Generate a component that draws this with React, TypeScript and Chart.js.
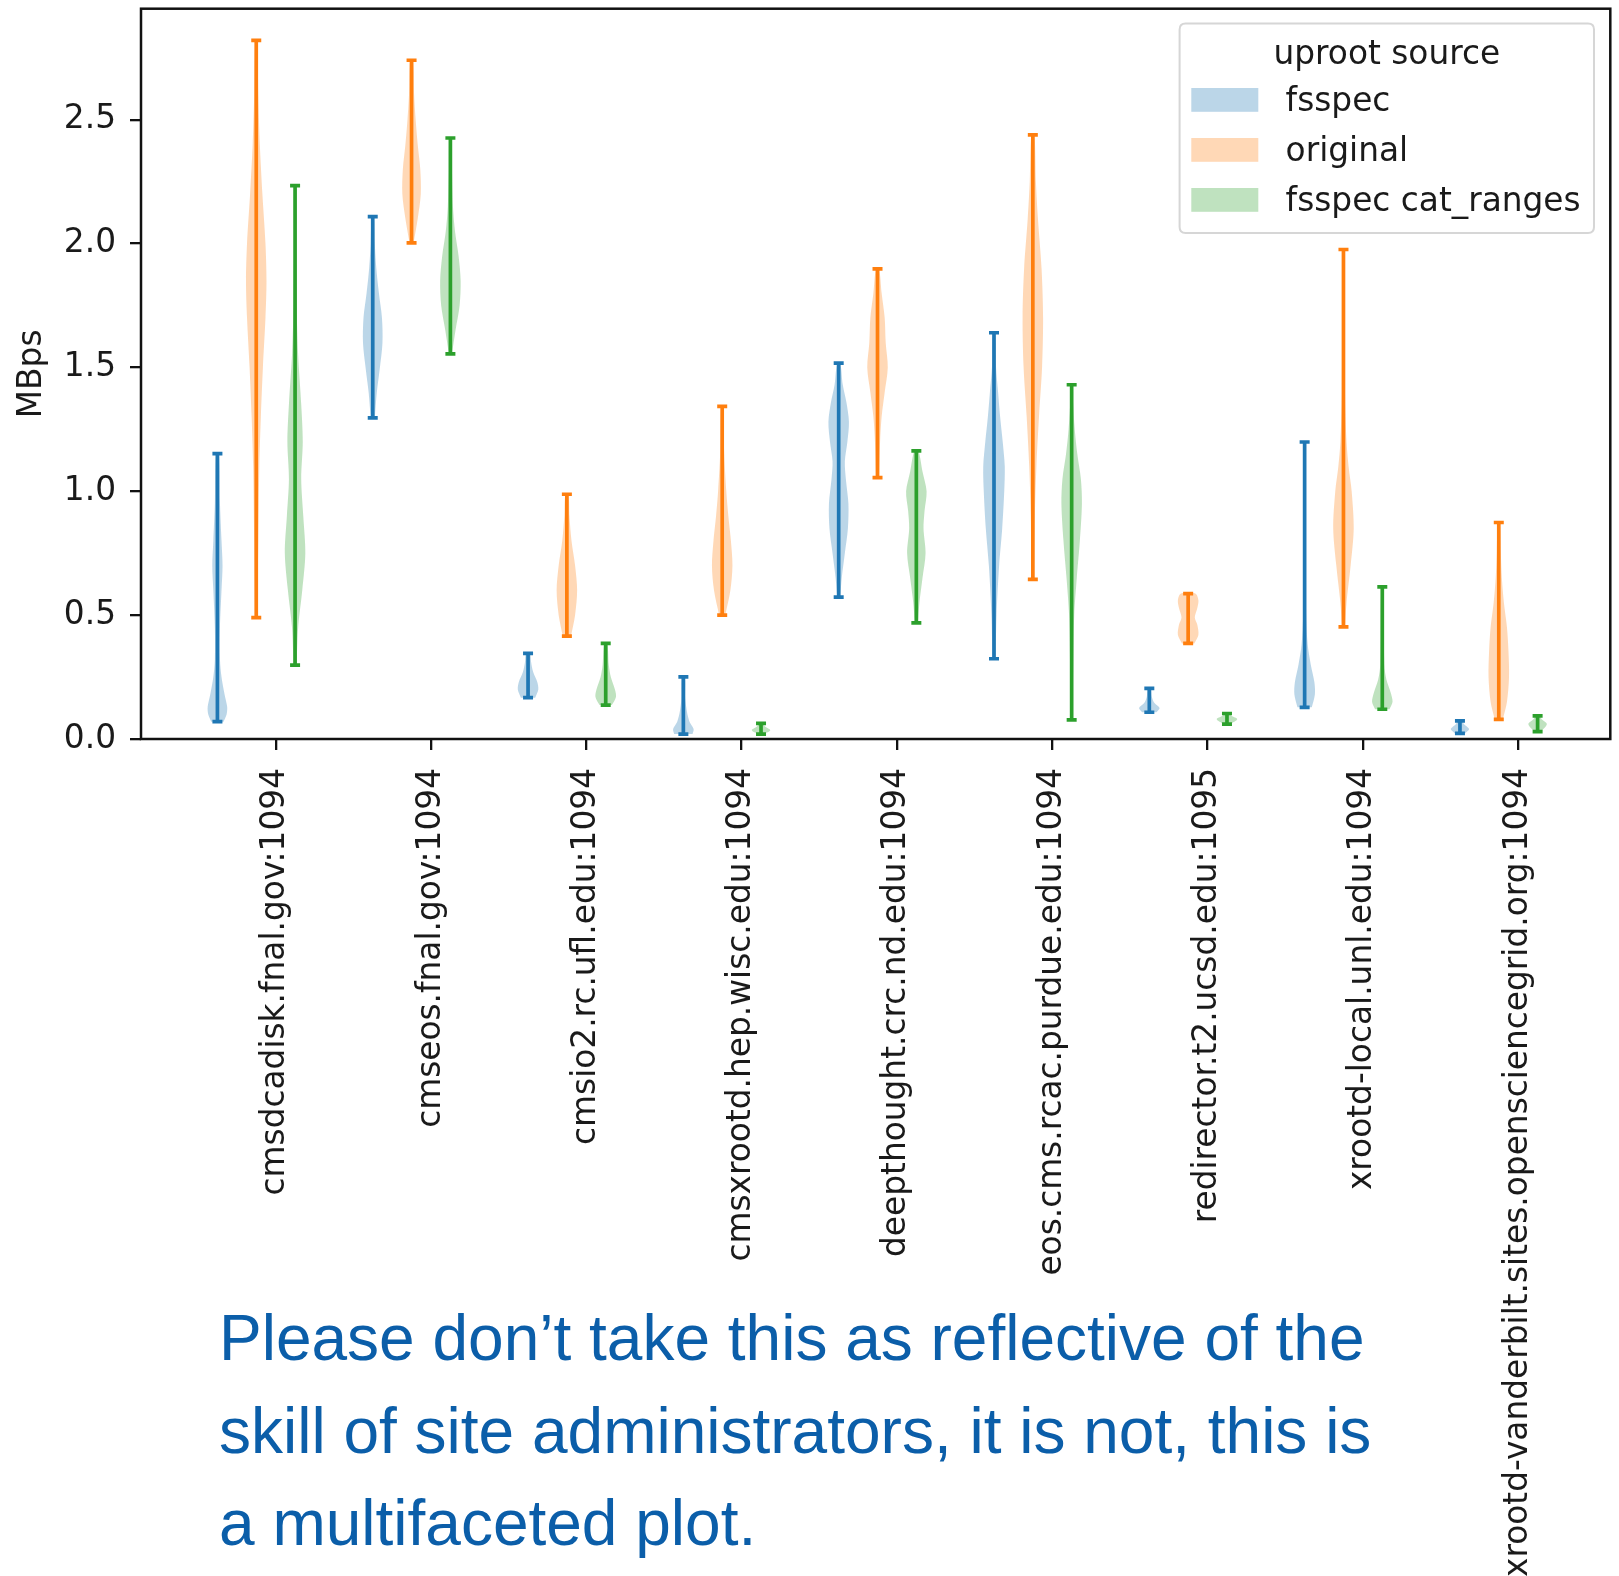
import React, { useEffect, useRef } from 'react';
import { Chart, registerables } from 'chart.js';

Chart.register(...registerables);

const W = 1619;
const H = 1576;

// ---------------- data ----------------
const CATEGORIES = [
  'cmsdcadisk.fnal.gov:1094',
  'cmseos.fnal.gov:1094',
  'cmsio2.rc.ufl.edu:1094',
  'cmsxrootd.hep.wisc.edu:1094',
  'deepthought.crc.nd.edu:1094',
  'eos.cms.rcac.purdue.edu:1094',
  'redirector.t2.ucsd.edu:1095',
  'xrootd-local.unl.edu:1094',
  'xrootd-vanderbilt.sites.opensciencegrid.org:1094',
];

const SERIES_NAMES = ['fsspec', 'original', 'fsspec cat_ranges'];
const Y_TICKS = [0, 0.5, 1.0, 1.5, 2.0, 2.5];

const FSSPEC_MIN = [0.07, 1.296, 0.167, 0.02, 0.573, 0.324, 0.108, 0.128, 0.023];
const FSSPEC_MAX = [1.152, 2.109, 0.346, 0.251, 1.517, 1.64, 0.204, 1.199, 0.073];
const ORIGINAL_MIN = [0.49, 2.003, 0.415, 0.5, 1.055, 0.644, 0.386, 0.453, 0.079];
const ORIGINAL_MAX = [2.82, 2.74, 0.988, 1.343, 1.898, 2.439, 0.587, 1.976, 0.874];
const CATRANGES_MIN = [0.298, 1.555, 0.137, 0.02, 0.469, 0.077, 0.06, 0.12, 0.03];
const CATRANGES_MAX = [2.234, 2.426, 0.386, 0.063, 1.163, 1.43, 0.103, 0.614, 0.093];

// density profiles: [value, relative density]
const FSSPEC_DENSITY = [
  [[0.07, 0.6], [0.1, 0.9], [0.13, 0.95], [0.18, 0.7], [0.25, 0.4], [0.32, 0.25], [0.45, 0.25], [0.6, 0.4], [0.7, 0.5], [0.8, 0.4], [0.95, 0.25], [1.152, 0.15]],
  [[1.296, 0.2], [1.4, 0.4], [1.5, 0.7], [1.6, 0.95], [1.7, 0.9], [1.8, 0.6], [1.9, 0.35], [2.0, 0.2], [2.109, 0.1]],
  [[0.167, 0.7], [0.2, 1.0], [0.23, 0.9], [0.27, 0.5], [0.31, 0.3], [0.346, 0.2]],
  [[0.02, 0.9], [0.04, 1.0], [0.07, 0.6], [0.11, 0.35], [0.16, 0.2], [0.251, 0.15]],
  [[0.573, 0.15], [0.65, 0.3], [0.75, 0.6], [0.85, 0.9], [0.95, 0.95], [1.05, 0.7], [1.12, 0.6], [1.2, 0.85], [1.28, 1.0], [1.36, 0.75], [1.43, 0.4], [1.517, 0.15]],
  [[0.324, 0.15], [0.5, 0.25], [0.7, 0.5], [0.85, 0.8], [1.0, 1.0], [1.1, 1.05], [1.2, 0.85], [1.3, 0.6], [1.4, 0.4], [1.5, 0.2], [1.64, 0.1]],
  [[0.108, 0.7], [0.125, 1.0], [0.145, 0.5], [0.17, 0.25], [0.204, 0.15]],
  [[0.128, 0.7], [0.18, 1.0], [0.23, 0.95], [0.3, 0.6], [0.38, 0.3], [0.5, 0.15], [0.8, 0.1], [1.199, 0.1]],
  [[0.023, 0.5], [0.04, 0.9], [0.06, 0.4], [0.073, 0.2]],
];
const ORIGINAL_DENSITY = [
  [[0.49, 0.1], [0.8, 0.2], [1.1, 0.3], [1.3, 0.45], [1.5, 0.65], [1.7, 0.9], [1.85, 1.0], [2.0, 0.9], [2.2, 0.6], [2.4, 0.35], [2.6, 0.2], [2.82, 0.1]],
  [[2.003, 0.2], [2.1, 0.6], [2.2, 0.9], [2.3, 0.85], [2.4, 0.6], [2.5, 0.4], [2.6, 0.25], [2.74, 0.15]],
  [[0.415, 0.4], [0.5, 0.8], [0.6, 1.0], [0.7, 0.8], [0.8, 0.45], [0.9, 0.25], [0.988, 0.15]],
  [[0.5, 0.3], [0.6, 0.8], [0.7, 1.0], [0.8, 0.85], [0.9, 0.6], [1.0, 0.4], [1.15, 0.2], [1.343, 0.1]],
  [[1.055, 0.15], [1.2, 0.25], [1.3, 0.4], [1.4, 0.7], [1.5, 1.0], [1.6, 0.8], [1.7, 0.7], [1.8, 0.4], [1.898, 0.15]],
  [[0.644, 0.15], [0.9, 0.2], [1.1, 0.35], [1.3, 0.6], [1.5, 0.9], [1.7, 1.0], [1.9, 0.85], [2.1, 0.5], [2.25, 0.3], [2.439, 0.15]],
  [[0.386, 0.6], [0.42, 1.0], [0.46, 0.9], [0.49, 0.65], [0.53, 0.9], [0.56, 1.0], [0.587, 0.7]],
  [[0.453, 0.15], [0.55, 0.3], [0.7, 0.7], [0.85, 1.0], [1.0, 0.8], [1.1, 0.5], [1.2, 0.3], [1.4, 0.15], [1.976, 0.1]],
  [[0.079, 0.4], [0.15, 0.8], [0.25, 1.0], [0.35, 0.95], [0.45, 0.8], [0.55, 0.5], [0.65, 0.3], [0.75, 0.2], [0.874, 0.1]],
];
const CATRANGES_DENSITY = [
  [[0.298, 0.15], [0.45, 0.3], [0.6, 0.7], [0.75, 1.0], [0.9, 0.8], [1.05, 0.6], [1.2, 0.75], [1.35, 0.6], [1.55, 0.3], [1.75, 0.15], [2.0, 0.1], [2.234, 0.1]],
  [[1.555, 0.15], [1.65, 0.5], [1.75, 0.9], [1.85, 1.0], [1.95, 0.8], [2.05, 0.45], [2.15, 0.25], [2.3, 0.15], [2.426, 0.1]],
  [[0.137, 0.6], [0.17, 1.0], [0.2, 0.9], [0.25, 0.5], [0.3, 0.3], [0.386, 0.15]],
  [[0.02, 0.3], [0.035, 0.9], [0.05, 0.4], [0.063, 0.15]],
  [[0.469, 0.15], [0.55, 0.3], [0.65, 0.6], [0.75, 0.9], [0.85, 0.7], [0.92, 0.8], [1.0, 1.0], [1.08, 0.6], [1.163, 0.2]],
  [[0.077, 0.1], [0.3, 0.15], [0.5, 0.25], [0.65, 0.5], [0.8, 0.8], [0.95, 1.0], [1.05, 0.9], [1.15, 0.55], [1.25, 0.3], [1.35, 0.15], [1.43, 0.1]],
  [[0.06, 0.3], [0.08, 1.0], [0.095, 0.4], [0.103, 0.2]],
  [[0.12, 0.7], [0.15, 1.0], [0.19, 0.8], [0.24, 0.4], [0.3, 0.2], [0.614, 0.1]],
  [[0.03, 0.3], [0.06, 0.9], [0.08, 0.4], [0.093, 0.2]],
];

// ---------------- styles / layout ----------------
const COLORS = ['#1f77b4', '#ff7f0e', '#2ca02c'];
const BODY_COLORS = ['rgba(31,119,180,0.3)', 'rgba(255,127,14,0.3)', 'rgba(44,160,44,0.3)'];
const HUE_OFFSETS = [-0.375, -0.125, 0.125];
const HALF_WIDTH = 0.066; // x units for relative density 1
const X_MIN = -0.867;
const X_MAX = 8.593;
const Y_MIN = 0;
const Y_MAX = 2.948;
const FONT = 'DejaVu Sans';
const FONT_SIZE = 32.8;
const TEXT = '#1a1a1a';

const SERIES = [
  { mins: FSSPEC_MIN, maxs: FSSPEC_MAX, density: FSSPEC_DENSITY },
  { mins: ORIGINAL_MIN, maxs: ORIGINAL_MAX, density: ORIGINAL_DENSITY },
  { mins: CATRANGES_MIN, maxs: CATRANGES_MAX, density: CATRANGES_DENSITY },
];

function buildDatasets() {
  const rangeSets: any[] = [];
  const bodySets: any[] = [];
  SERIES.forEach((s, si) => {
    const pts: any[] = [];
    CATEGORIES.forEach((_, ci) => {
      const x = ci + HUE_OFFSETS[si];
      pts.push({ x, y: s.mins[ci] }, { x, y: s.maxs[ci] }, { x, y: null });
    });
    rangeSets.push({
      label: SERIES_NAMES[si],
      data: pts,
      borderColor: COLORS[si],
      backgroundColor: COLORS[si],
      borderWidth: 3.7,
      borderCapStyle: 'butt',
      spanGaps: false,
      tension: 0,
      fill: false,
      pointStyle: 'line',
      pointRadius: 5,
      pointBorderWidth: 3.7,
      pointBorderColor: COLORS[si],
      pointBackgroundColor: COLORS[si],
    });
    CATEGORIES.forEach((_, ci) => {
      const c = ci + HUE_OFFSETS[si];
      const prof = s.density[ci];
      const left = prof.map(([v, d]) => ({ x: c - d * HALF_WIDTH, y: v }));
      const right = prof
        .slice()
        .reverse()
        .map(([v, d]) => ({ x: c + d * HALF_WIDTH, y: v }));
      bodySets.push({
        label: SERIES_NAMES[si] + ' body',
        data: [...left, ...right],
        borderColor: 'rgba(0,0,0,0)',
        borderWidth: 0,
        backgroundColor: BODY_COLORS[si],
        fill: 'shape',
        tension: 0.3,
        pointRadius: 0,
      });
    });
  });
  return [...rangeSets, ...bodySets];
}

const framePlugin = {
  id: 'frame',
  afterDatasetsDraw(chart: any) {
    const { ctx, chartArea: a } = chart;
    ctx.save();
    ctx.strokeStyle = '#111';
    ctx.lineWidth = 2.5;
    ctx.strokeRect(a.left, a.top, a.right - a.left, a.bottom - a.top);
    ctx.restore();
  },
};

const legendPlugin = {
  id: 'violinLegend',
  afterDraw(chart: any) {
    const { ctx, chartArea: a } = chart;
    const w = 414.4;
    const h = 209.6;
    const left = a.right - 430.7;
    const top = a.top + 14.7;
    const r = 6;
    ctx.save();
    ctx.beginPath();
    ctx.moveTo(left + r, top);
    ctx.lineTo(left + w - r, top);
    ctx.quadraticCurveTo(left + w, top, left + w, top + r);
    ctx.lineTo(left + w, top + h - r);
    ctx.quadraticCurveTo(left + w, top + h, left + w - r, top + h);
    ctx.lineTo(left + r, top + h);
    ctx.quadraticCurveTo(left, top + h, left, top + h - r);
    ctx.lineTo(left, top + r);
    ctx.quadraticCurveTo(left, top, left + r, top);
    ctx.closePath();
    ctx.fillStyle = 'rgba(255,255,255,0.8)';
    ctx.fill();
    ctx.strokeStyle = '#d6d6d6';
    ctx.lineWidth = 2;
    ctx.stroke();

    ctx.font = `${FONT_SIZE}px "${FONT}"`;
    ctx.fillStyle = TEXT;
    ctx.textBaseline = 'alphabetic';
    ctx.textAlign = 'center';
    ctx.fillText('uproot source', left + w / 2, top + 40.6);
    ctx.textAlign = 'left';
    SERIES_NAMES.forEach((name, i) => {
      const cy = top + 76.5 + i * 50;
      ctx.fillStyle = BODY_COLORS[i];
      ctx.fillRect(left + 11.7, cy - 11.9, 67, 23.8);
      ctx.fillStyle = TEXT;
      ctx.fillText(name, left + 106, top + 87.3 + i * 50);
    });
    ctx.restore();
  },
};

export default function App() {
  const ref = useRef<HTMLCanvasElement>(null);

  useEffect(() => {
    const canvas = ref.current;
    if (!canvas) return;
    const chart = new Chart(canvas, {
      type: 'line',
      data: { datasets: buildDatasets() as any },
      options: {
        animation: false,
        responsive: false,
        maintainAspectRatio: false,
        events: [],
        layout: { padding: { top: 8, right: 5, left: 0, bottom: 0 } },
        plugins: {
          legend: { display: false },
          tooltip: { enabled: false },
        },
        scales: {
          x: {
            type: 'linear',
            min: X_MIN,
            max: X_MAX,
            bounds: 'data',
            afterBuildTicks: (s: any) => {
              s.ticks = CATEGORIES.map((_, i) => ({ value: i }));
            },
            afterFit: (s: any) => {
              s.height = H - 739;
              s.paddingLeft = 0;
              s.paddingRight = 0;
            },
            grid: {
              display: true,
              drawOnChartArea: false,
              drawTicks: true,
              tickLength: 11,
              color: '#111',
              lineWidth: 2.3,
            },
            border: { display: false },
            ticks: {
              autoSkip: false,
              maxRotation: 90,
              minRotation: 90,
              padding: 18,
              color: TEXT,
              font: { family: FONT, size: FONT_SIZE },
              callback: (v: any) => CATEGORIES[Math.round(Number(v))] ?? '',
            },
          },
          y: {
            type: 'linear',
            min: Y_MIN,
            max: Y_MAX,
            bounds: 'data',
            afterBuildTicks: (s: any) => {
              s.ticks = Y_TICKS.map((v) => ({ value: v }));
            },
            afterFit: (s: any) => {
              s.width = 141;
              s.paddingTop = 0;
              s.paddingBottom = 0;
            },
            grid: {
              display: true,
              drawOnChartArea: false,
              drawTicks: true,
              tickLength: 11,
              color: '#111',
              lineWidth: 2.3,
            },
            border: { display: false },
            ticks: {
              padding: 14,
              color: TEXT,
              font: { family: FONT, size: FONT_SIZE },
              callback: (v: any) => Number(v).toFixed(1),
            },
            title: {
              display: true,
              text: 'MBps',
              color: TEXT,
              font: { family: FONT, size: FONT_SIZE },
              padding: { top: 13, bottom: 0 },
            },
          },
        },
      },
      plugins: [framePlugin, legendPlugin],
    } as any);
    return () => chart.destroy();
  }, []);

  return (
    <div
      style={{
        position: 'absolute',
        left: 0,
        top: 0,
        width: W,
        height: H,
        background: '#fff',
        overflow: 'hidden',
      }}
    >
      <canvas
        ref={ref}
        width={W}
        height={H}
        style={{ position: 'absolute', left: 0, top: 0, width: W, height: H }}
      />
      <div
        style={{
          position: 'absolute',
          left: 219,
          top: 1292,
          fontFamily: '"Liberation Sans", Arial, Helvetica, sans-serif',
          fontSize: 64,
          lineHeight: '92.7px',
          color: '#0b5ea9',
          whiteSpace: 'nowrap',
        }}
      >
        Please don’t take this as reflective of the
        <br />
        skill of site administrators, it is not, this is
        <br />
        a multifaceted plot.
      </div>
    </div>
  );
}
